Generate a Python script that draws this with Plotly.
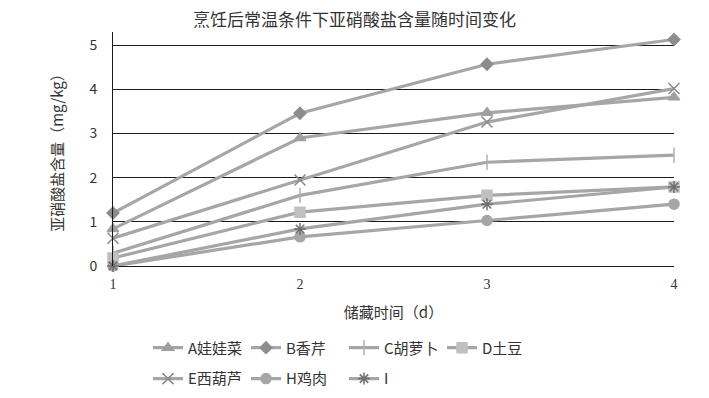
import plotly.graph_objects as go

days = [1, 2, 3, 4]
names = ["A娃娃菜", "B香芹", "C胡萝卜", "D土豆", "E西葫芦", "H鸡肉", "I"]
A = [0.84, 2.90, 3.47, 3.82]
B = [1.20, 3.46, 4.57, 5.13]
C = [0.29, 1.60, 2.35, 2.51]
D = [0.18, 1.22, 1.60, 1.79]
E = [0.63, 1.95, 3.26, 4.02]
H = [0.00, 0.66, 1.03, 1.40]
I = [0.00, 0.84, 1.40, 1.79]

series = [A, B, C, D, E, H, I]
symbols = ["triangle-up", "diamond", "line-ns", "square", "x-thin", "circle", "asterisk"]
mcolors = ["#a0a0a0", "#8c8c8c", "#b0b0b0", "#c0c0c0", "#8a8a8a", "#a6a6a6", "#707070"]
msizes = [10, 9, 11, 10, 11, 10, 10]
legends = ["legend", "legend", "legend", "legend", "legend2", "legend2", "legend2"]

font = "Noto Sans CJK SC, sans-serif"
fig = go.Figure()
for nm, ys, sym, mc, ms, lg in zip(names, series, symbols, mcolors, msizes, legends):
    fig.add_trace(go.Scatter(
        x=days, y=ys, name=nm, mode="lines+markers", cliponaxis=False,
        line=dict(color="#a6a6a6", width=3.2),
        marker=dict(symbol=sym, size=ms, color=mc,
                    line=dict(color=mc, width=1.5)),
        legend=lg,
    ))

ymax = 5.3
unit = 221 / 5.0
top = 45 - (ymax - 5) * unit
pw = 709 - 113 - 35
ph = 398 - top - 132
def px(xp):
    return (xp - 113) / pw
def py(yp):
    return (398 - 132 - yp) / ph

fig.update_layout(
    width=709, height=398,
    margin=dict(l=113, r=35, t=top, b=132, autoexpand=False),
    paper_bgcolor="white", plot_bgcolor="white",
    font=dict(family=font, color="#333", size=13),
    title=dict(text="烹饪后常温条件下亚硝酸盐含量随时间变化", x=0.5, xanchor="center",
               y=1 - 20 / 398, yanchor="middle", font=dict(size=17, color="#333")),
    xaxis=dict(range=[1, 4], tickvals=days, showgrid=False, zeroline=False,
               showline=False, ticks="", automargin=False, ticklabelstandoff=8,
               tickfont=dict(size=14, family="Liberation Serif, serif"),
               title=dict(text="储藏时间（d）", font=dict(size=15), standoff=16)),
    yaxis=dict(range=[0, ymax], tickvals=[0, 1, 2, 3, 4, 5], showgrid=True,
               gridcolor="#1a1a1a", gridwidth=1,
               zeroline=True, zerolinecolor="#1a1a1a", zerolinewidth=1,
               showline=True, linecolor="#1a1a1a", linewidth=1, ticks="",
               tickfont=dict(size=14), automargin=False, ticklabelstandoff=12,
               title=dict(text="亚硝酸盐含量（mg/kg）", font=dict(size=15), standoff=22)),
    legend=dict(orientation="h", x=px(148), y=py(348), yanchor="middle",
                entrywidth=53, entrywidthmode="pixels", font=dict(size=15),
                bgcolor="rgba(0,0,0,0)", itemwidth=30),
    legend2=dict(orientation="h", x=px(148), y=py(379), yanchor="middle",
                 entrywidth=53, entrywidthmode="pixels", font=dict(size=15),
                 bgcolor="rgba(0,0,0,0)", itemwidth=30),
)

fig.write_html("out.html", post_script="document.body.style.margin='0';",
               config={"displayModeBar": False})
